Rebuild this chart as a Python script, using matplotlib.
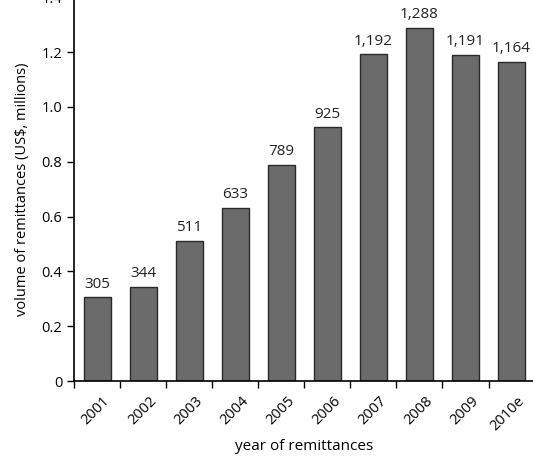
import matplotlib.pyplot as plt
import numpy as np

plt.rcParams['font.family'] = ['Open Sans', 'DejaVu Sans']

years = ["2001", "2002", "2003", "2004", "2005", "2006", "2007", "2008", "2009", "2010e"]
remit = [305, 344, 511, 633, 789, 925, 1192, 1288, 1191, 1164]
labels = ["305", "344", "511", "633", "789", "925", "1,192", "1,288", "1,191", "1,164"]


def main():
    fig = plt.figure(figsize=(5.33, 4.63), dpi=100)
    ax = fig.add_axes([0.139, 0.177, 0.864, 0.829])
    x = np.arange(len(years))
    vals = [v / 1000 for v in remit]
    ax.bar(x, vals, width=0.59, color="#6b6b6b", edgecolor="#2a2a2a", linewidth=1.0)
    for xi, v, lab in zip(x, vals, labels):
        ax.text(xi, v + 0.02, lab, ha="center", va="bottom", fontsize=11, color="#222222")

    ax.set_xlim(-0.5, 9.5)
    ax.set_ylim(0, 1.4)
    ax.set_yticks(np.arange(0, 1.41, 0.2))
    ax.set_yticklabels(["0", "0.2", "0.4", "0.6", "0.8", "1.0", "1.2", "1.4"])
    ax.set_xticks(x + 0.12)
    ax.set_xticklabels(years, rotation=45, ha="right", rotation_mode="anchor")
    ax.set_xticks(np.arange(-0.5, 9.0, 1.0), minor=True)
    ax.tick_params(axis="x", which="major", length=0, pad=9, labelsize=10.5)
    ax.tick_params(axis="x", which="minor", length=5, width=1, direction="out")
    ax.tick_params(axis="y", length=5, width=1, labelsize=10.5)
    for s in ["top", "right"]:
        ax.spines[s].set_visible(False)
    ax.spines["left"].set_linewidth(1.2)
    ax.spines["bottom"].set_linewidth(1.2)

    ax.set_xlabel("year of remittances", fontsize=11, labelpad=4)
    ax.set_ylabel("volume of remittances (US$, millions)", fontsize=10.5, labelpad=8)
    fig.savefig("out.png", dpi=100)


if __name__ == "__main__":
    main()
